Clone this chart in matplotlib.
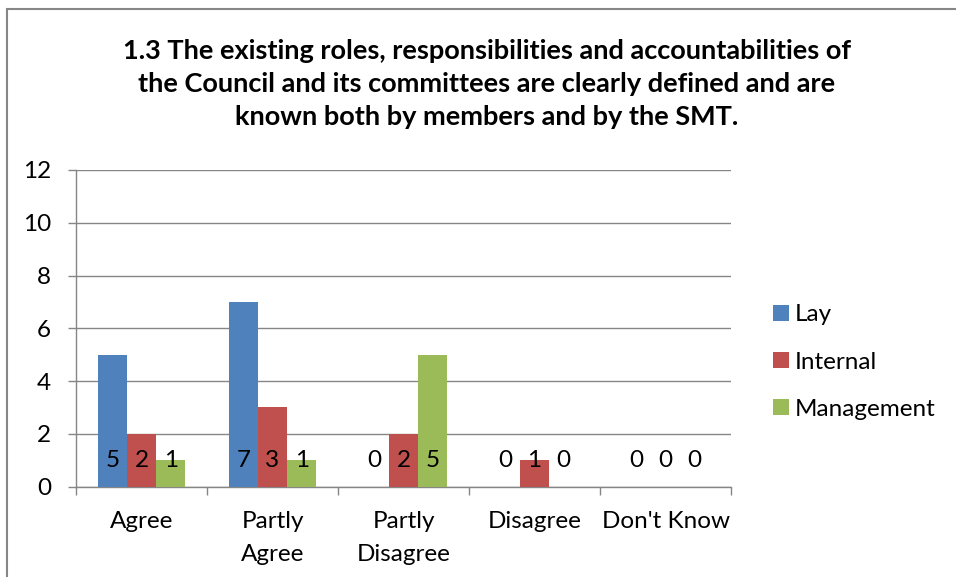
import matplotlib.pyplot as plt
import matplotlib.patches as mpatches
import numpy as np

plt.rcParams['font.family'] = ['Lato', 'DejaVu Sans']

categories = ['Agree', 'Partly\nAgree', 'Partly\nDisagree', 'Disagree', "Don't Know"]
series = ['Lay', 'Internal', 'Management']
lay = [5, 7, 0, 0, 0]
internal = [2, 3, 2, 1, 0]
management = [1, 1, 5, 0, 0]
values = [lay, internal, management]
colors = ['#4F81BD', '#C0504D', '#9BBB59']

title = ('1.3 The existing roles, responsibilities and accountabilities of\n'
         'the Council and its committees are clearly defined and are\n'
         'known both by members and by the SMT.')

W, H = 956, 577
fs = 17.5
fig = plt.figure(figsize=(W / 100, H / 100), dpi=100)
ax = fig.add_axes([76 / W, 1 - 486.5 / H, (731 - 76) / W, (486.5 - 170) / H])

# outer chart border (cropped at right and bottom)
fig.patches.append(mpatches.Rectangle((7 / W, -0.1), 1.2, 1 - 9 / H + 0.1,
                                      transform=fig.transFigure, fill=False,
                                      edgecolor='#868686', lw=1.5))

x = np.arange(len(categories))
bw = 1 / 4.5
for i, (vals, c, name) in enumerate(zip(values, colors, series)):
    pos = x + (i - 1) * bw
    ax.bar(pos, vals, bw, color=c, label=name, zorder=3)
    for p, v in zip(pos, vals):
        ax.annotate(str(v), (p, 0), xytext=(0, 19), textcoords='offset points',
                    ha='center', va='center', fontsize=fs, color='black', zorder=4)

ax.set_xlim(-0.5, len(categories) - 0.5)
ax.set_ylim(0, 12)
ax.set_yticks(range(0, 13, 2))
ax.set_xticks(np.arange(len(categories) + 1) - 0.5)
ax.set_xticklabels([])
ax.set_xticks(x, minor=True)
ax.set_xticklabels(categories, minor=True, fontsize=fs, linespacing=1.65)
ax.tick_params(axis='x', which='minor', length=0, pad=18)
ax.tick_params(axis='x', which='major', length=6, color='#868686', width=1)
ax.tick_params(axis='y', length=6, color='#868686', width=1, labelsize=fs, pad=12)
ax.grid(axis='y', color='#868686', lw=1, zorder=0)
for s in ['top', 'right']:
    ax.spines[s].set_visible(False)
for s in ['left', 'bottom']:
    ax.spines[s].set_color('#868686')
    ax.spines[s].set_linewidth(1)

fig.text(487 / W, 1 - 84 / H, title, ha='center', va='center', fontsize=19.5,
         fontweight='bold', linespacing=1.44)

ax.legend(loc='center left', bbox_to_anchor=(763 / W, 1 - 362 / H),
          bbox_transform=fig.transFigure, frameon=False, fontsize=fs,
          handlelength=0.65, handleheight=0.65, handletextpad=0.25,
          labelspacing=1.07, borderaxespad=0)

fig.savefig('out.png', dpi=100)
